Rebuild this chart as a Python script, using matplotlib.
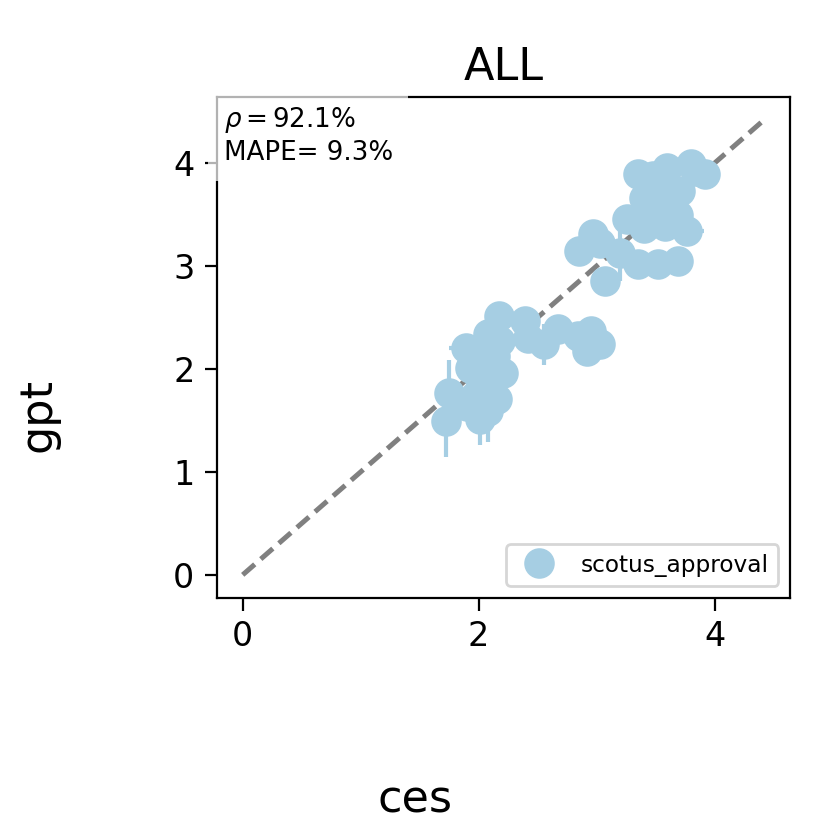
import matplotlib
matplotlib.use("Agg")
import matplotlib.pyplot as plt

# data (ces, gpt)
ces = [1.72, 1.75, 1.89, 1.93, 1.90, 2.01, 2.08, 2.01, 2.16, 2.21, 2.08, 2.17, 2.10, 1.97, 2.14, 2.06, 2.18,
       2.39, 2.42, 2.55, 2.67, 2.84, 2.95, 3.03, 2.92,
       2.85, 2.97, 3.03, 3.07, 3.20, 3.35, 3.52, 3.69, 3.40, 3.58, 3.77, 3.26, 3.48, 3.69,
       3.40, 3.52, 3.71, 3.35, 3.48, 3.60, 3.80, 3.92, 3.84, 3.58]
gpt = [1.49, 1.77, 2.20, 2.01, 1.64, 1.51, 1.59, 1.90, 1.71, 1.96, 2.34, 2.51, 1.81, 1.74, 2.13, 2.08, 2.27,
       2.47, 2.30, 2.24, 2.39, 2.32, 2.37, 2.24, 2.17,
       3.15, 3.31, 3.22, 2.85, 3.13, 3.02, 3.02, 3.05, 3.37, 3.39, 3.34, 3.46, 3.44, 3.50,
       3.66, 3.73, 3.73, 3.89, 3.87, 3.95, 3.99, 3.89, 3.92, 3.63]
ces_err = [0.00, 0.00, 0.14, 0.05, 0.00, 0.00, 0.00, 0.05, 0.00, 0.12, 0.00, 0.00, 0.00, 0.00, 0.00, 0.00, 0.00,
           0.00, 0.00, 0.00, 0.00, 0.00, 0.00, 0.00, 0.00,
           0.00, 0.00, 0.00, 0.00, 0.00, 0.00, 0.00, 0.00, 0.00, 0.00, 0.14, 0.00, 0.00, 0.00,
           0.00, 0.00, 0.00, 0.00, 0.00, 0.00, 0.00, 0.00, 0.00, 0.00]
gpt_err = [0.35, 0.32, 0.05, 0.05, 0.10, 0.25, 0.30, 0.05, 0.10, 0.05, 0.10, 0.05, 0.05, 0.05, 0.05, 0.05, 0.05,
           0.10, 0.05, 0.20, 0.05, 0.05, 0.05, 0.05, 0.05,
           0.05, 0.10, 0.05, 0.05, 0.28, 0.05, 0.05, 0.05, 0.05, 0.05, 0.05, 0.12, 0.05, 0.05,
           0.05, 0.05, 0.05, 0.05, 0.05, 0.08, 0.10, 0.05, 0.05, 0.05]
diag = [0.0, 4.42]
series_label = "scotus_approval"
title = "ALL"
stats_text = "$\\rho=$92.1%\nMAPE= 9.3%"

color = "#a6cee3"

fig = plt.figure(figsize=(4.15, 4.15), dpi=200)
ax = fig.add_axes([0.261, 0.280, 0.691, 0.603])

ax.plot(diag, diag, linestyle=(0, (3.2, 1.6)), color="gray", lw=1.8, zorder=1)
ax.errorbar(ces, gpt, xerr=ces_err, yerr=gpt_err, fmt="none", ecolor=color, elinewidth=1.5, zorder=2)
ax.plot(ces, gpt, "o", color=color, markersize=10, linestyle="none", label=series_label, zorder=2)

ax.set_xticks([0, 2, 4])
ax.set_yticks([0, 1, 2, 3, 4])
ax.tick_params(labelsize=12, length=4.5)
ax.set_title(title, fontsize=16)

ax.legend(loc="lower right", fontsize=8.4)

ax.text(0.012, 0.985, stats_text, transform=ax.transAxes, fontsize=9.4, va="top", ha="left",
        linespacing=1.25,
        bbox=dict(boxstyle="square,pad=0.6", facecolor="white", alpha=0.7, edgecolor="none"),
        zorder=5, clip_on=False)

fig.supxlabel("ces", fontsize=16)
fig.supylabel("gpt", fontsize=16)

fig.savefig("out.png", dpi=200)
